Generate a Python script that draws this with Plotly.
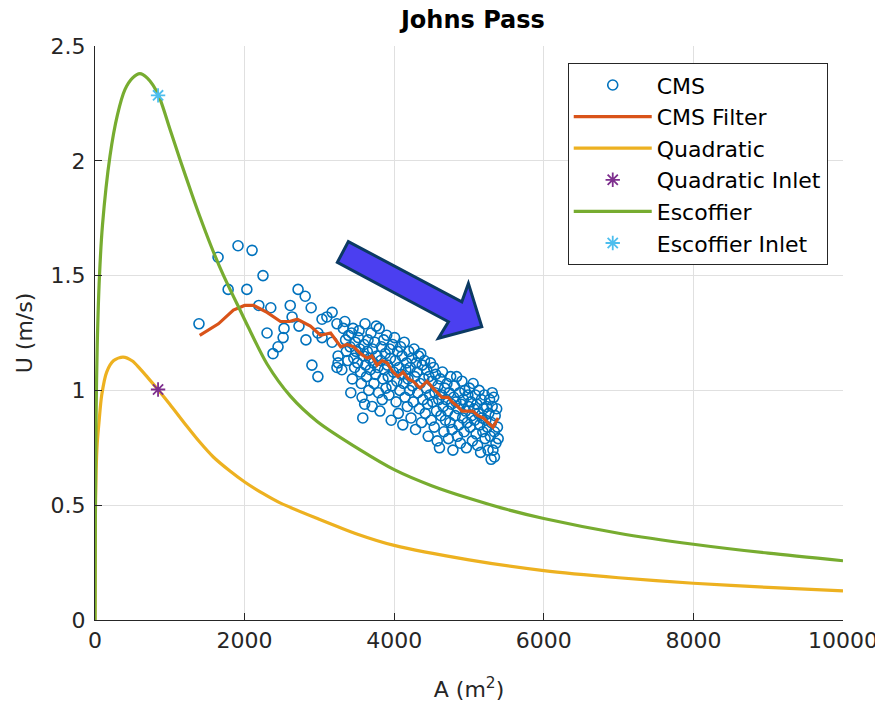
import plotly.graph_objects as go

# ---------------- data ----------------
cms_A = [1390, 1912, 2100, 1645, 2246, 1780, 2030, 2190, 2350, 2715, 2810, 2890, 2610, 2635,
         2300, 2527, 2515, 2447, 2380, 2820, 2727, 2900, 2980, 3035, 3100, 3170, 3235, 2980,
         3035, 3170, 3250, 3235, 3250,
         3320, 3350, 3360, 3380, 3390, 3300, 3340,
         3410, 3430, 3450, 3460, 3470, 3480, 3440, 3490, 3420,
         3510, 3520, 3540, 3550, 3560, 3570, 3580, 3590, 3530, 3595,
         3610, 3620, 3630, 3640, 3650, 3660, 3670, 3680, 3690, 3605,
         3705, 3710, 3720, 3730, 3740, 3750, 3760, 3770, 3780, 3790,
         3800, 3810, 3820, 3830, 3840, 3850, 3860, 3870, 3880, 3890,
         3900, 3910, 3920, 3930, 3940, 3950, 3960, 3970, 3980, 3990,
         4005, 4015, 4025, 4035, 4045, 4055, 4065, 4075, 4085, 4095,
         4105, 4115, 4125, 4135, 4145, 4155, 4165, 4175, 4185, 4195,
         4205, 4215, 4225, 4235, 4245, 4255, 4265, 4275, 4285, 4295,
         4305, 4315, 4325, 4335, 4345, 4355, 4365, 4375, 4385, 4395,
         4405, 4415, 4425, 4435, 4445, 4455, 4465, 4475, 4485, 4495,
         4505, 4515, 4525, 4535, 4545, 4555, 4565, 4575, 4585, 4595,
         4605, 4615, 4625, 4635, 4645, 4655, 4665, 4675, 4685, 4695,
         4705, 4715, 4725, 4735, 4745, 4755, 4765, 4775, 4785, 4795,
         4805, 4815, 4825, 4835, 4845, 4855, 4865, 4875, 4885, 4895,
         4905, 4915, 4925, 4935, 4945, 4955, 4965, 4975, 4985, 4995,
         5005, 5015, 5025, 5035, 5045, 5055, 5065, 5075, 5085, 5095,
         5105, 5115, 5125, 5135, 5145, 5155, 5165, 5175, 5185, 5195,
         5205, 5215, 5225, 5235, 5245, 5255, 5265, 5275, 5285, 5295,
         5300, 5310, 5320, 5330, 5340, 5350, 5360, 5370, 5380, 5390, 5310, 5340]
cms_U = [1.29, 1.63, 1.61, 1.58, 1.50, 1.44, 1.44, 1.37, 1.36, 1.44, 1.41, 1.36, 1.37, 1.32,
         1.25, 1.27, 1.23, 1.19, 1.16, 1.22, 1.28, 1.11, 1.06, 1.31, 1.32, 1.34, 1.29, 1.25,
         1.23, 1.21, 1.15, 1.10, 1.12,
         1.27, 1.22, 1.17, 1.13, 1.24, 1.09, 1.30,
         1.19, 1.25, 1.27, 1.14, 1.10, 1.21, 1.05, 1.17, 0.99,
         1.12, 1.23, 1.18, 1.08, 1.03, 0.97, 0.88, 1.15, 1.26, 1.20,
         1.29, 1.11, 1.06, 1.17, 1.22, 1.00, 1.14, 1.09, 1.25, 0.94,
         0.93, 1.18, 1.12, 1.03, 1.21, 1.07, 1.28, 1.15, 1.10, 0.99,
         1.27, 0.91, 1.13, 1.19, 0.96, 1.05, 1.22, 1.09, 1.16, 1.01,
         1.24, 1.11, 1.06, 0.98, 1.18, 1.14, 0.87, 1.02, 1.20, 1.08,
         1.23, 1.13, 0.95, 1.04, 1.17, 0.90, 1.10, 1.00, 1.19, 1.07,
         1.15, 0.85, 1.03, 1.21, 0.97, 1.09, 1.12, 0.93, 1.05, 1.17,
         1.00, 1.10, 0.88, 1.14, 1.02, 0.95, 1.18, 1.06, 0.83, 1.12,
         1.08, 0.99, 1.15, 0.92, 1.03, 1.16, 0.86, 1.11, 0.96, 1.05,
         1.13, 0.90, 1.01, 1.09, 0.94, 0.80, 1.06, 0.98, 1.12, 0.87,
         1.04, 0.95, 1.10, 0.84, 0.99, 1.07, 0.91, 0.78, 1.02, 0.96,
         0.75, 1.05, 0.89, 0.98, 1.08, 0.93, 0.82, 1.01, 0.87, 0.96,
         1.03, 0.91, 0.79, 0.99, 0.86, 1.06, 0.94, 0.83, 0.74, 0.97,
         1.02, 0.89, 0.95, 1.06, 0.80, 0.92, 0.85, 0.99, 0.77, 0.94,
         1.04, 0.88, 0.96, 0.82, 1.00, 0.91, 0.75, 0.86, 0.98, 0.93,
         1.01, 0.84, 0.95, 0.89, 0.78, 1.03, 0.92, 0.87, 0.98, 0.81,
         0.94, 0.76, 0.90, 1.00, 0.85, 0.73, 0.96, 0.88, 0.82, 0.92,
         0.98, 0.79, 0.87, 0.93, 0.84, 0.74, 0.90, 0.96, 0.80, 0.70,
         0.86, 0.93, 0.74, 0.97, 0.82, 0.89, 0.77, 0.92, 0.84, 0.79, 0.99, 0.71]

filt_A = [1400, 1650, 1850, 2000, 2120, 2300, 2480, 2600, 2705, 2880, 3015, 3150, 3285,
          3370, 3460, 3550, 3640, 3700, 3770, 3840, 3904, 3984, 4050, 4118, 4190, 4252,
          4345, 4439, 4546, 4640, 4720, 4773, 4850, 4907, 4987, 5050, 5121, 5190, 5254,
          5321, 5390]
filt_U = [1.24, 1.29, 1.35, 1.37, 1.37, 1.34, 1.30, 1.30, 1.31, 1.28, 1.24, 1.25, 1.19,
          1.20, 1.19, 1.16, 1.14, 1.15, 1.11, 1.13, 1.12, 1.08, 1.06, 1.08, 1.05, 1.04,
          1.01, 1.04, 1.00, 0.97, 0.97, 0.95, 0.93, 0.91, 0.91, 0.91, 0.89, 0.88, 0.86,
          0.84, 0.88]

quad_A = [0, 5, 15, 30, 53, 90, 156, 250, 375, 500, 600, 700, 843, 1000, 1226, 1400,
          1582, 1800, 2006, 2250, 2474, 2965, 3500, 4000, 5000, 6000, 7000, 8000, 9000, 10000]
quad_U = [0, 0.45, 0.65, 0.77, 0.86, 0.98, 1.08, 1.13, 1.145, 1.128, 1.095, 1.058, 1.003,
          0.94, 0.845, 0.775, 0.71, 0.65, 0.60, 0.55, 0.51, 0.443, 0.375, 0.325, 0.262,
          0.215, 0.184, 0.16, 0.142, 0.127]

esc_A = [0, 5, 15, 30, 60, 100, 200, 300, 400, 500, 600, 700, 843, 1000, 1137, 1300,
         1404, 1550, 1658, 1783, 1939, 2050, 2300, 2612, 2970, 3550, 4000, 4500, 5000,
         5500, 6000, 7000, 8000, 9000, 10000]
esc_U = [0, 0.5, 0.9, 1.2, 1.5, 1.72, 2.02, 2.2, 2.31, 2.36, 2.38, 2.36, 2.29, 2.14,
         2.005, 1.85, 1.755, 1.63, 1.545, 1.455, 1.35, 1.275, 1.115, 0.975, 0.865, 0.74,
         0.655, 0.585, 0.53, 0.482, 0.442, 0.378, 0.33, 0.291, 0.258]

quad_inlet_A = [843]
quad_inlet_U = [1.004]
esc_inlet_A = [843]
esc_inlet_U = [2.285]

x_ticks = [0, 2000, 4000, 6000, 8000, 10000]
y_ticks = [0, 0.5, 1, 1.5, 2, 2.5]
y_tick_text = ["0", "0.5", "1", "1.5", "2", "2.5"]

# arrow outline (decoration), in data units
arrow_A = [3387, 4904, 4992, 5171, 4591, 4725, 3240]
arrow_U = [1.648, 1.386, 1.466, 1.277, 1.227, 1.299, 1.558]

FONT = "DejaVu Sans, Liberation Sans, Arial, sans-serif"
AX = "#262626"

fig = go.Figure()
fig.add_trace(go.Scatter(x=cms_A, y=cms_U, mode="markers", name="CMS",
                         legendgroup="a",
                         marker=dict(symbol="circle-open", size=10, color="#0072BD",
                                     line=dict(width=1.6, color="#0072BD"))))
fig.add_trace(go.Scatter(x=filt_A, y=filt_U, mode="lines", name="CMS Filter",
                         legendgroup="b",
                         line=dict(color="#D95319", width=3.2)))
fig.add_trace(go.Scatter(x=quad_A, y=quad_U, mode="lines", name="Quadratic",
                         legendgroup="c",
                         line=dict(color="#EDB120", width=3.2, shape="spline", smoothing=0.8)))
fig.add_trace(go.Scatter(x=quad_inlet_A, y=quad_inlet_U, mode="markers", name="Quadratic Inlet",
                         legendgroup="d",
                         marker=dict(symbol="asterisk-open", size=12, color="#7E2F8E",
                                     line=dict(width=1.8, color="#7E2F8E"))))
fig.add_trace(go.Scatter(x=esc_A, y=esc_U, mode="lines", name="Escoffier",
                         legendgroup="e",
                         line=dict(color="#77AC30", width=3.2, shape="spline", smoothing=0.8)))
fig.add_trace(go.Scatter(x=esc_inlet_A, y=esc_inlet_U, mode="markers", name="Escoffier Inlet",
                         legendgroup="f",
                         marker=dict(symbol="asterisk-open", size=12, color="#4DBEEE",
                                     line=dict(width=1.8, color="#4DBEEE"))))

path = "M " + " L ".join(f"{a},{u}" for a, u in zip(arrow_A, arrow_U)) + " Z"
fig.add_shape(type="path", path=path, xref="x", yref="y",
              fillcolor="#4B3FF0", line=dict(color="#0B3A63", width=3))

# page body adds an 8px offset; figure sized so the plot area lands at 95..843 x 46..620
fig.update_layout(
    width=875, height=697,
    margin=dict(l=87, r=40, t=38, b=85, autoexpand=False),
    paper_bgcolor="white", plot_bgcolor="white",
    font=dict(family=FONT, size=22, color=AX),
    title=dict(text="<b>Johns Pass</b>", x=0.5313, xanchor="center",
               y=0.995, yanchor="top", pad=dict(t=0, b=0),
               font=dict(family=FONT, size=24, color="black")),
    showlegend=True,
    legend=dict(x=0.632, y=0.970, xanchor="left", yanchor="top",
                bgcolor="white", bordercolor="#262626", borderwidth=1,
                font=dict(family=FONT, size=22, color="black"),
                itemwidth=78, tracegroupgap=0, traceorder="normal"),
)
fig.update_xaxes(range=[0, 10000], tickvals=x_ticks, ticktext=[str(v) for v in x_ticks],
                 showgrid=True, gridcolor="#e0e0e0", gridwidth=1, zeroline=False,
                 showline=True, linecolor=AX, linewidth=1.2, mirror=False, automargin=False,
                 ticks="inside", ticklen=7, tickcolor=AX,
                 tickfont=dict(size=22, color=AX),
                 title=dict(text="A (m<sup>2</sup>)", font=dict(size=22, color=AX), standoff=30))
fig.update_yaxes(range=[0, 2.5], tickvals=y_ticks, ticktext=y_tick_text,
                 showgrid=True, gridcolor="#e0e0e0", gridwidth=1, zeroline=False,
                 showline=True, linecolor=AX, linewidth=1.2, mirror=False, automargin=False,
                 ticks="inside", ticklen=7, tickcolor=AX, ticklabelstandoff=4,
                 tickfont=dict(size=22, color=AX),
                 title=dict(text="U (m/s)", font=dict(size=22, color=AX), standoff=11))

fig.write_html("out.html")
